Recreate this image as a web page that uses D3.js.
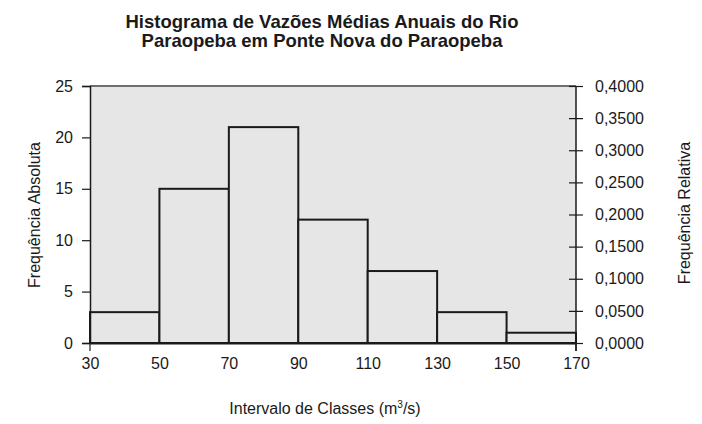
<!DOCTYPE html>
<html><head><meta charset="utf-8">
<script src="https://cdn.jsdelivr.net/npm/d3@7"></script>
<style>body{margin:0;background:#fff}text{font-family:"Liberation Sans",Arial,sans-serif;fill:#1a1a1a}</style>
</head><body>
<script>
const classStarts = [30, 50, 70, 90, 110, 130, 150];
const classEnds = [50, 70, 90, 110, 130, 150, 170];
const frequencies = [3, 15, 21, 12, 7, 3, 1];
const xTicks = [30, 50, 70, 90, 110, 130, 150, 170];
const leftTicks = [0, 5, 10, 15, 20, 25];
const rightTicks = [0, 0.05, 0.1, 0.15, 0.2, 0.25, 0.3, 0.35, 0.4];
const titleLines = ["Histograma de Vazões Médias Anuais do Rio", "Paraopeba em Ponte Nova do Paraopeba"];

const W = 702, H = 424;
const m = {left: 90, right: 126, top: 86, bottom: 81};
const svg = d3.select("body").append("svg").attr("width", W).attr("height", H);
const x = d3.scaleLinear().domain([30, 170]).range([m.left, W - m.right]);
const y = d3.scaleLinear().domain([0, 25]).range([H - m.bottom, m.top]);
const y2 = d3.scaleLinear().domain([0, 0.4]).range([H - m.bottom, m.top]);

svg.append("rect").attr("x", x(30)).attr("y", y(25)).attr("width", x(170) - x(30)).attr("height", y(0) - y(25)).attr("fill", "#e6e6e6");
svg.append("line").attr("x1", x(30)).attr("x2", x(170)).attr("y1", y(25)).attr("y2", y(25)).attr("stroke", "#6e6e6e").attr("stroke-width", 2);

const data = classStarts.map((s, i) => ({s, e: classEnds[i], v: frequencies[i]}));
svg.selectAll("rect.bar").data(data).enter().append("rect").attr("class", "bar")
  .attr("x", d => x(d.s)).attr("y", d => y(d.v)).attr("width", d => x(d.e) - x(d.s)).attr("height", d => y(0) - y(d.v))
  .attr("fill", "#e6e6e6").attr("stroke", "#1a1a1a").attr("stroke-width", 2);

// left axis
const gl = svg.append("g").attr("transform", `translate(${x(30)},0)`)
  .call(d3.axisLeft(y).tickValues(leftTicks).tickSize(8).tickPadding(9));
gl.select(".domain").attr("stroke", "#1a1a1a").attr("stroke-width", 1.5);
gl.selectAll(".tick line").attr("stroke", "#1a1a1a").attr("stroke-width", 1.2);
gl.selectAll("text").style("font-size", "16px").attr("fill", "#1a1a1a");

// right axis (ticks cross)
const gr = svg.append("g").attr("transform", `translate(${x(170)},0)`)
  .call(d3.axisRight(y2).tickValues(rightTicks).tickSize(7).tickPadding(12).tickFormat(d => d3.format(".4f")(d).replace(".", ",")));
gr.select(".domain").remove();
gr.selectAll(".tick line").attr("x1", -7).attr("stroke", "#1a1a1a").attr("stroke-width", 1.2);
gr.selectAll("text").style("font-size", "16px").attr("fill", "#1a1a1a");
svg.append("line").attr("x1", x(170)).attr("x2", x(170)).attr("y1", y(25)).attr("y2", y(0) + 8).attr("stroke", "#1a1a1a").attr("stroke-width", 1.5);

// bottom axis
const gb = svg.append("g").attr("transform", `translate(0,${y(0)})`)
  .call(d3.axisBottom(x).tickValues(xTicks).tickSize(0).tickPadding(15));
gb.select(".domain").attr("stroke", "#1a1a1a").attr("stroke-width", 2);
gb.selectAll("text").style("font-size", "16px").attr("fill", "#1a1a1a");
svg.selectAll("line.endtick").data([30, 170]).enter().append("line").attr("class", "endtick")
  .attr("x1", d => x(d)).attr("x2", d => x(d)).attr("y1", y(0)).attr("y2", y(0) + 8).attr("stroke", "#1a1a1a").attr("stroke-width", 1.2);

// titles
svg.selectAll("text.title").data(titleLines).enter().append("text").attr("class", "title")
  .attr("x", 322).attr("y", (d, i) => 28 + i * 19).attr("text-anchor", "middle")
  .style("font-size", "18.5px").style("font-weight", "bold").text(d => d);

svg.append("text").attr("transform", "translate(40,215) rotate(-90)").attr("text-anchor", "middle")
  .style("font-size", "16px").text("Frequência Absoluta");
svg.append("text").attr("transform", "translate(690,213) rotate(-90)").attr("text-anchor", "middle")
  .style("font-size", "16px").text("Frequência Relativa");
svg.append("text").attr("x", 325).attr("y", 414).attr("text-anchor", "middle").style("font-size", "16px")
  .html('Intervalo de Classes (m<tspan dy="-6" font-size="10px">3</tspan><tspan dy="6">/s)</tspan>');
</script>
</body></html>
